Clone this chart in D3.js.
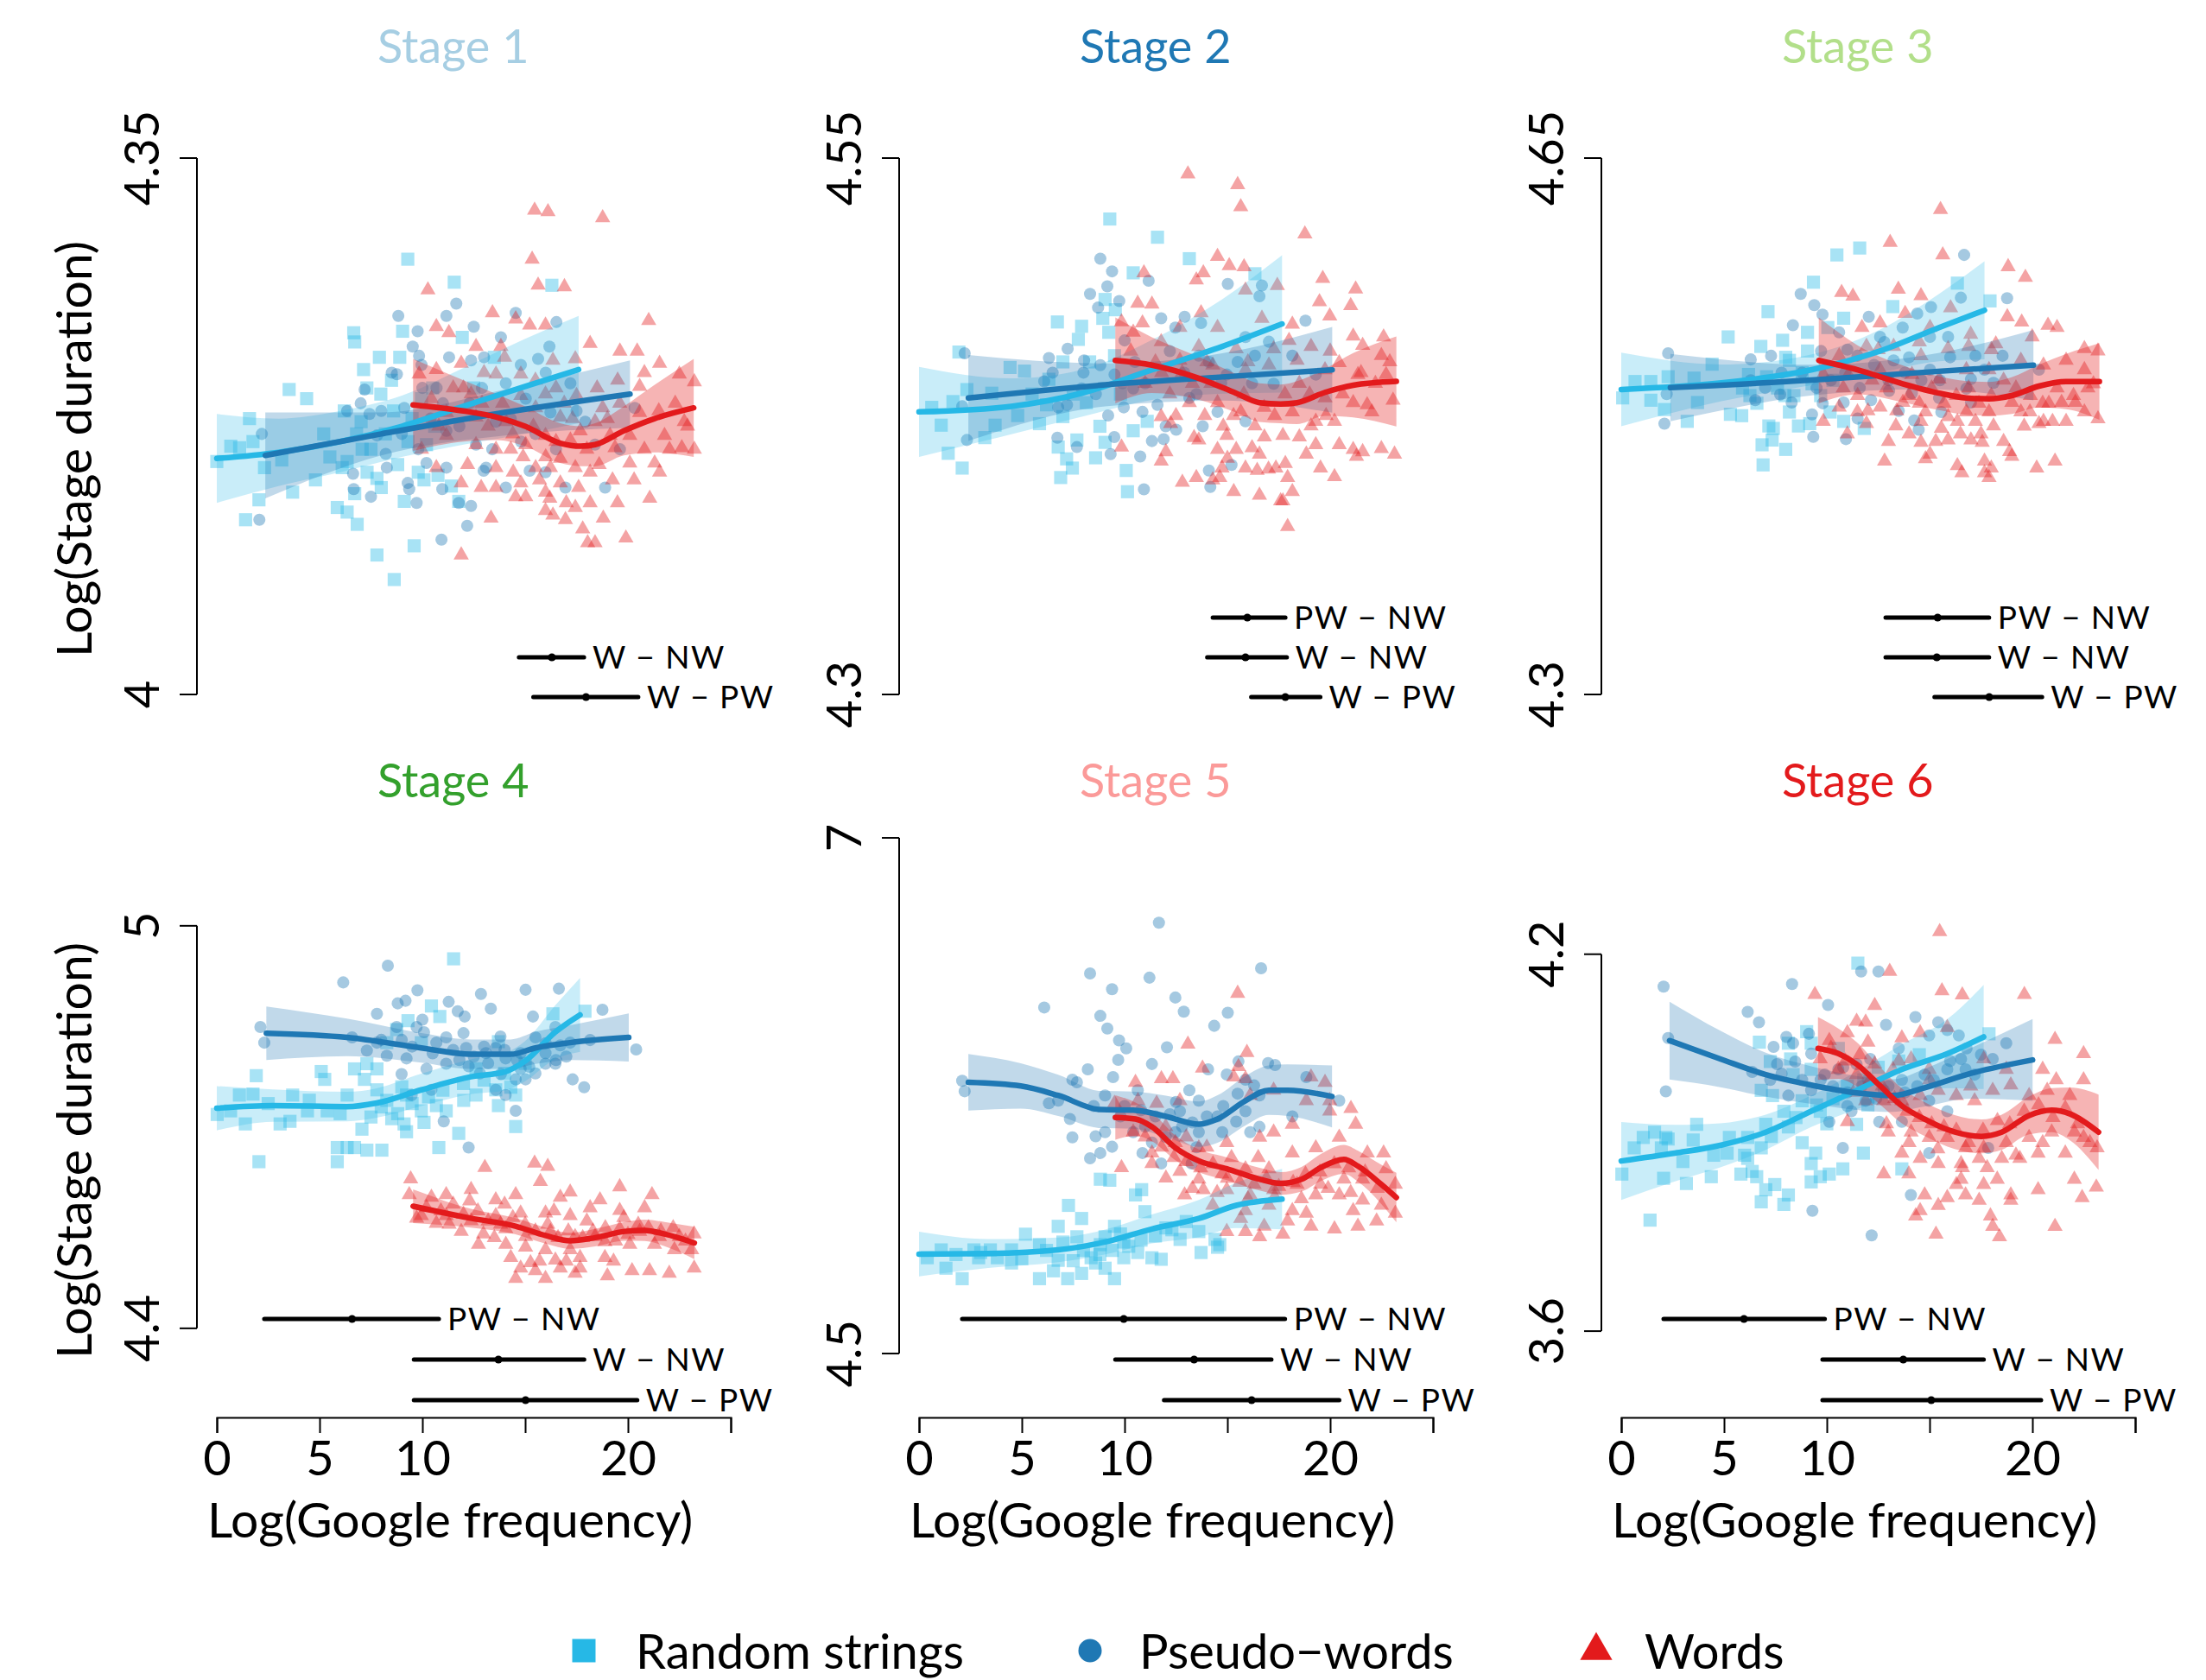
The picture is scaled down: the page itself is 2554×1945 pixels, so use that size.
<!DOCTYPE html>
<html>
<head>
<meta charset="utf-8">
<script src="https://cdn.jsdelivr.net/npm/d3@7"></script>
<style>
  body { margin: 0; background: #fff; }
  text { font-family: Lato, 'Open Sans', sans-serif; }
</style>
</head>
<body>
<div id="chart"></div>
<script>
// ---- chart values ----
var stages = ['Stage 1', 'Stage 2', 'Stage 3', 'Stage 4', 'Stage 5', 'Stage 6'];
var stageColors = ['#a6cee3', '#1f78b4', '#b2df8a', '#33a02c', '#fb9a99', '#e31a1c'];
var groups = ['Random strings', 'Pseudo\u2212words', 'Words'];
var groupColors = ['#26b8e6', '#1f78b4', '#e31a1c'];

var xTicks = [0, 5, 10, 15, 20, 25];
var xTickLabels = ['0', '5', '10', '', '20', ''];
var yTicks = [[4, 4.35], [4.3, 4.55], [4.3, 4.65], [4.4, 5], [4.5, 7], [3.6, 4.2]];
var yLimits = [[4, 4.35], [4.3, 4.55], [4.3, 4.65], [4.32, 5.144], [4.362, 7.042], [3.519, 4.399]];

// scatter: [log google frequency, log stage duration]
var rs1 = [[0,4.152],[0.68,4.162],[1.11,4.161],[1.59,4.18],[1.76,4.165],[1.4,4.114],[2.05,4.127],[2.32,4.148],[3.16,4.153],[3.69,4.132],[3.52,4.199],[4.37,4.193],[5.86,4.122],[6.34,4.119],[6.83,4.111],[6.66,4.236],[6.71,4.23],[7.14,4.212],[7.91,4.22],[7.98,4.196],[7.79,4.091],[8.63,4.075],[9.29,4.284],[9.04,4.237],[9.6,4.097],[10.08,4.14],[10.76,4.143],[11.41,4.136],[11.55,4.269],[11.94,4.233],[11.77,4.126],[16.3,4.267],[6.34,4.152],[6.71,4.131],[7.31,4.145],[7.02,4.178],[7.79,4.141],[9.12,4.126],[7.07,4.16],[6.1,4.148],[9.96,4.193],[10.2,4.163],[8.2,4.17],[8.8,4.15],[9.5,4.18],[10.5,4.2],[5.2,4.17],[4.8,4.14],[12.5,4.2],[13.5,4.22],[8.5,4.205],[6.2,4.185],
  [7.5,4.16],[8.0,4.135],[8.6,4.185],[9.3,4.165],[9.8,4.145],[10.6,4.175],[6.8,4.17],[5.5,4.155],[7.3,4.2],[8.9,4.22]];
var pw1 = [[2.07,4.114],[2.19,4.17],[6.34,4.185],[6.63,4.144],[6.66,4.134],[7.19,4.199],[7.5,4.129],[7.43,4.183],[8.22,4.157],[8.51,4.21],[8.76,4.209],[8.83,4.247],[9.12,4.187],[9.29,4.138],[9.36,4.134],[9.53,4.227],[9.72,4.125],[9.77,4.237],[9.84,4.221],[9.96,4.215],[10.93,4.101],[10.97,4.134],[11.17,4.247],[11.65,4.255],[11.77,4.125],[12.18,4.11],[12.37,4.218],[12.98,4.146],[14.06,4.135],[14.54,4.249],[15.22,4.146],[16.18,4.227],[16.52,4.243],[15.63,4.219],[14.79,4.215],[12.61,4.163],[13.58,4.178],[15.99,4.145],[17.92,4.178],[18.4,4.163],[20.33,4.187],[14.06,4.203],[10.69,4.2],[11.17,4.172],[10.2,4.151],[8.27,4.148],[7.79,4.169],[15.03,4.193],[16.23,4.184],[17.2,4.203],[19.61,4.16],[18.89,4.135],[13.1,4.148],[16.96,4.135],[13.82,4.233],[11.17,4.148],[12.37,4.123],
  [9.0,4.17],[9.8,4.16],[10.4,4.18],[11.0,4.19],[11.8,4.175],[12.3,4.19],[12.9,4.2],[13.4,4.16],[14.3,4.18],[14.8,4.165],[15.5,4.17],[16.5,4.16],[17.5,4.185],[8.0,4.185],[7.0,4.19],[10.0,4.2],[13.0,4.22],[16.0,4.21],[11.3,4.22],[12.5,4.24]];
var w1 = [[15.46,4.316],[16.11,4.315],[18.77,4.311],[15.34,4.284],[15.63,4.267],[16.91,4.266],[10.27,4.264],[13.41,4.249],[14.54,4.245],[15.22,4.241],[15.99,4.241],[21.01,4.244],[10.68,4.24],[11.29,4.236],[12.61,4.227],[13.82,4.227],[18.16,4.229],[19.61,4.224],[20.45,4.224],[21.54,4.216],[22.5,4.209],[23.23,4.204],[17.44,4.219],[16.35,4.218],[14.79,4.209],[13.58,4.209],[11.89,4.216],[10.68,4.212],[9.84,4.209],[10.44,4.193],[12.37,4.196],[14.79,4.195],[15.99,4.196],[18.77,4.187],[20.57,4.201],[22.74,4.178],[23.23,4.16],[22.62,4.161],[21.78,4.169],[20.57,4.184],[19.37,4.161],[18.4,4.178],[16.71,4.181],[15.51,4.187],[14.06,4.178],[12.61,4.181],[11.17,4.169],[9.96,4.16],[10.68,4.148],[11.89,4.138],[12.86,4.135],[13.58,4.135],[14.54,4.129],[15.03,4.129],[15.99,4.132],[16.71,4.138],[17.44,4.148],[18.16,4.145],[19.25,4.14],[20.09,4.151],[21.54,4.145],[21.06,4.128],[19.49,4.125],[18.16,4.125],[17.44,4.122],[16.96,4.114],[16.35,4.117],[15.99,4.12],[17.8,4.108],[18.04,4.099],[18.4,4.099],[19.9,4.102],[13.34,4.115],[11.89,4.091],[14.42,4.145],[16.23,4.148],[15.03,4.163],[13.58,4.16],[17.2,4.166],[19.13,4.169],[21.3,4.151],[22.02,4.16],[13.58,4.148],[14.79,4.138],[16.71,4.154],[15.99,4.169],[17.68,4.172],[20.09,4.169],[11.17,4.184],[12.61,4.163],[14.3,4.16],[15.51,4.148],
  [12.0,4.2],[12.9,4.19],[13.2,4.175],[13.9,4.19],[14.4,4.17],[14.9,4.155],[15.4,4.175],[15.7,4.14],[16.0,4.155],[16.5,4.165],[16.9,4.19],[17.3,4.18],[17.6,4.135],[18.0,4.16],[18.6,4.15],[19.0,4.18],[19.6,4.19],[20.3,4.14],[20.8,4.16],[21.5,4.185],[22.3,4.19],[22.9,4.175],[12.2,4.15],[11.5,4.2],[10.8,4.175],[13.0,4.21],[14.0,4.22],[15.5,4.205],[16.5,4.2],[17.5,4.195],[18.5,4.2],[19.5,4.205],[20.8,4.21],[16.2,4.128],[17.0,4.125],[18.8,4.115]];

var rs2 = [[9.28,4.5216],[11.6,4.5131],[13.15,4.5031],[10.42,4.4965],[16.34,4.4961],[6.73,4.4736],[7.91,4.4716],[7.75,4.4655],[9.05,4.4841],[9.55,4.4793],[8.94,4.4753],[9.23,4.4688],[1.94,4.4596],[4.43,4.4524],[5.13,4.4507],[2.33,4.4421],[3.54,4.4404],[1.65,4.4365],[0.62,4.4338],[1.08,4.4255],[1.42,4.4124],[2.1,4.4055],[3.2,4.4197],[3.7,4.4255],[5.86,4.4262],[7.0,4.4295],[6.77,4.4153],[7.18,4.4098],[6.89,4.4011],[7.46,4.4055],[7.68,4.4186],[8.59,4.4103],[9.05,4.4175],[10.08,4.4044],[10.14,4.3945],[10.42,4.4229],[11.1,4.4273],[9.51,4.4579],[6.32,4.4469],[8.14,4.436],
  [7.5,4.44],[8.3,4.455],[8.8,4.425],[6.2,4.435],[5.5,4.44],[9.8,4.44],[4.8,4.43],[7.0,4.455]];
var pw2 = [[8.82,4.5031],[9.39,4.4972],[9.16,4.4902],[8.32,4.4867],[8.71,4.4803],[9.74,4.4834],[11.17,4.4928],[15.02,4.4913],[16.68,4.4906],[16.56,4.4856],[18.8,4.4742],[12.92,4.476],[13.72,4.4731],[6.32,4.4568],[7.23,4.4611],[8.03,4.4557],[6.09,4.4459],[8.82,4.4535],[9.51,4.4491],[10.42,4.4426],[2.22,4.459],[2.1,4.4343],[2.33,4.4186],[6.73,4.4197],[7.68,4.4153],[9.32,4.412],[10.76,4.4109],[11.33,4.4181],[11.9,4.419],[12.51,4.4234],[14.1,4.4044],[14.17,4.3967],[15.2,4.407],[10.94,4.3956],[13.15,4.4382],[14.97,4.4491],[17.02,4.4644],[18.16,4.4579],[16.34,4.4579],[13.61,4.4579],[14.52,4.4317],[15.88,4.4273],[17.25,4.4448],[19.3,4.4491],[12.47,4.471],[11.78,4.4753],[6.77,4.4338],[7.91,4.4426],[9.96,4.4338],[10.87,4.4317],[15.88,4.4666],
  [8.0,4.45],[8.6,4.44],[9.2,4.43],[9.9,4.445],[10.5,4.455],[11.0,4.445],[11.6,4.435],[12.2,4.46],[12.9,4.45],[13.5,4.44],[14.1,4.455],[14.7,4.445],[15.5,4.455],[16.2,4.445],[7.2,4.435],[6.5,4.45],[10.0,4.465],[12.0,4.425],[13.8,4.425],[9.5,4.42]];
var w2 = [[13.08,4.5426],[15.5,4.5376],[15.65,4.5273],[18.77,4.5146],[14.52,4.5041],[15.09,4.4998],[15.81,4.4993],[13.83,4.4965],[13.49,4.4932],[10.94,4.4965],[19.64,4.4939],[21.24,4.4889],[15.88,4.4884],[17.43,4.4906],[10.64,4.4823],[11.33,4.4819],[13.72,4.4779],[19.48,4.483],[21.0,4.4812],[19.98,4.4764],[9.85,4.4736],[10.87,4.4731],[12.69,4.471],[14.52,4.471],[16.68,4.4753],[18.16,4.4725],[21.12,4.467],[22.6,4.4666],[21.58,4.4627],[19.07,4.4622],[17.25,4.4611],[15.43,4.4611],[13.61,4.4622],[11.78,4.4644],[10.42,4.4688],[20.44,4.4546],[22.49,4.4579],[22.72,4.4491],[21.35,4.4491],[19.75,4.4513],[18.39,4.4557],[17.02,4.4535],[15.88,4.4513],[14.29,4.4535],[12.69,4.4557],[19.75,4.4382],[21.12,4.436],[22.03,4.4317],[23.06,4.4371],[20.21,4.4273],[19.3,4.4273],[18.16,4.4317],[16.79,4.4338],[15.65,4.4317],[14.52,4.436],[13.15,4.436],[11.78,4.4295],[12.24,4.4262],[13.61,4.4186],[14.97,4.4207],[16.34,4.4251],[17.7,4.4207],[19.07,4.4251],[20.44,4.4164],[21.12,4.4142],[21.58,4.4131],[22.49,4.4146],[23.13,4.412],[21.28,4.4109],[19.53,4.4055],[20.21,4.4015],[18.84,4.412],[17.82,4.4076],[17.36,4.4055],[16.56,4.412],[15.43,4.4142],[14.52,4.4142],[13.38,4.4197],[12.01,4.4131],[11.78,4.4087],[9.85,4.4153],[12.81,4.3989],[13.49,4.4011],[14.29,4.4],[14.63,4.4011],[15.31,4.3945],[16.56,4.3928],[17.59,4.3902],[17.93,4.4011],[18.16,4.3945],[17.93,4.3782],[17.7,4.3902],[16.45,4.4044],[14.74,4.4055],[15.88,4.4055],[19.3,4.4164],
  [11.0,4.445],[11.5,4.455],[12.2,4.44],[12.8,4.45],[13.3,4.445],[13.9,4.43],[14.2,4.445],[14.8,4.425],[15.3,4.43],[15.8,4.44],[16.2,4.415],[16.8,4.42],[17.3,4.43],[17.8,4.44],[18.5,4.445],[19.0,4.44],[19.8,4.43],[20.6,4.44],[21.5,4.45],[22.2,4.445],[22.9,4.455],[10.3,4.46],[11.8,4.45],[14.0,4.455],[16.0,4.455],[18.0,4.465],[12.5,4.43],[15.0,4.41],[17.0,4.405],[18.5,4.42],[20.0,4.46],[21.8,4.435]];

var rs3 = [[10.49,4.5868],[11.6,4.5913],[9.35,4.569],[7.14,4.5498],[16.35,4.5684],[17.94,4.5568],[13.21,4.5531],[5.2,4.5333],[7.85,4.5311],[9.06,4.5363],[10.05,4.5394],[10.82,4.5455],[6.79,4.5271],[4.42,4.5155],[3.54,4.5064],[2.28,4.5073],[1.44,4.5042],[0.67,4.5042],[0.07,4.4935],[1.44,4.492],[2.1,4.4859],[3.71,4.4905],[3.21,4.4782],[5.31,4.4828],[5.86,4.4819],[6.26,4.495],[7.07,4.5073],[8.18,4.518],[9.06,4.5241],[9.28,4.5027],[7.96,4.495],[6.85,4.4629],[7.34,4.466],[7.4,4.4736],[7.18,4.4752],[8.0,4.4599],[6.9,4.4498],[8.62,4.4752],[9.17,4.4767],[10.16,4.4843],[10.82,4.4782],[11.82,4.4736],[8.18,4.4843],[6.19,4.5088],
  [7.6,4.5],[8.4,4.495],[8.8,4.51],[6.6,4.49],[5.9,4.5],[9.7,4.495],[10.3,4.505],[8.0,4.52]];
var pw3 = [[16.68,4.5868],[16.52,4.5589],[18.77,4.5586],[8.73,4.5614],[9.39,4.554],[9.79,4.5479],[8.35,4.5409],[12.04,4.5464],[14.4,4.5486],[15.07,4.5528],[2.28,4.5226],[2.21,4.496],[2.1,4.4767],[6.3,4.5186],[7.29,4.521],[6.52,4.492],[7.73,4.4957],[8.29,4.4905],[9.28,4.4828],[9.34,4.4681],[10.93,4.4666],[10.82,4.4905],[12.15,4.492],[13.03,4.4981],[14.14,4.4966],[15.46,4.4935],[16.79,4.4996],[18.11,4.5033],[14.47,4.4727],[14.25,4.4788],[15.57,4.4843],[17.01,4.5058],[17.67,4.5119],[20.32,4.5119],[15.02,4.5119],[13.25,4.518],[11.49,4.521],[9.72,4.5241],[15.9,4.5333],[12.59,4.5333],[13.69,4.5394],[17.23,4.521],[18.55,4.521],[17.01,4.4905],[15.02,4.5333],[10.6,4.5363],
  [8.8,4.51],[9.5,4.5],[10.2,4.505],[10.9,4.51],[11.6,4.5],[12.3,4.515],[13.0,4.505],[13.8,4.51],[14.6,4.505],[15.5,4.505],[16.0,4.52],[7.8,4.51],[7.0,4.5],[6.3,4.505],[11.0,4.525],[12.8,4.53],[14.0,4.52],[9.8,4.49],[11.5,4.48],[13.5,4.485]];
var w3 = [[15.53,4.6164],[13.08,4.595],[15.64,4.5868],[18.82,4.5791],[19.66,4.5721],[10.72,4.5623],[11.27,4.5599],[13.48,4.5644],[14.58,4.5602],[16.02,4.5522],[18.78,4.5464],[19.48,4.543],[20.76,4.5409],[21.2,4.5394],[19.99,4.5333],[18.22,4.5287],[16.9,4.5271],[13.81,4.5486],[12.59,4.5424],[11.71,4.5394],[15.02,4.5394],[15.9,4.5256],[14.58,4.521],[13.25,4.5271],[11.93,4.5271],[10.6,4.521],[9.83,4.5088],[11.05,4.5088],[12.59,4.5119],[14.14,4.5088],[15.46,4.5058],[16.79,4.5119],[17.89,4.5119],[19.44,4.518],[20.54,4.5149],[21.64,4.518],[22.53,4.5256],[23.19,4.5241],[22.53,4.5119],[22.97,4.5027],[21.42,4.4905],[22.09,4.4905],[22.53,4.4843],[23.19,4.4798],[20.54,4.4782],[19.88,4.4843],[19.0,4.4905],[17.89,4.4843],[16.79,4.4843],[15.9,4.4813],[14.8,4.4843],[13.7,4.4905],[12.59,4.4874],[11.49,4.4843],[10.6,4.4874],[9.83,4.4782],[11.93,4.4767],[13.36,4.4752],[14.58,4.4782],[15.57,4.4736],[16.35,4.4782],[17.23,4.4782],[18.11,4.4752],[19.44,4.4843],[21.64,4.4782],[20.98,4.4782],[20.32,4.4767],[14.58,4.4645],[15.02,4.4568],[15.9,4.466],[17.01,4.466],[17.56,4.4645],[12.81,4.4522],[14.8,4.4538],[16.35,4.4492],[16.57,4.4446],[17.67,4.4522],[17.89,4.4415],[18.89,4.4584],[19.0,4.4553],[20.21,4.4477],[21.1,4.4522],[18.0,4.4477],[17.67,4.4446],
  [10.8,4.5],[11.5,4.495],[12.2,4.505],[12.9,4.5],[13.4,4.485],[14.0,4.495],[14.5,4.49],[15.1,4.5],[15.7,4.49],[16.3,4.495],[16.9,4.5],[17.4,4.49],[18.0,4.495],[18.6,4.505],[19.2,4.5],[19.9,4.495],[20.5,4.49],[21.2,4.5],[22.0,4.495],[22.7,4.5],[11.0,4.47],[12.0,4.485],[13.0,4.465],[14.0,4.47],[15.3,4.465],[16.5,4.47],[17.5,4.47],[18.6,4.465],[19.6,4.475],[20.8,4.49],[12.5,4.525],[14.5,4.53],[17.0,4.535],[18.0,4.525]];

var rs4 = [[11.52,4.9508],[10.44,4.8805],[10.85,4.8648],[9.3,4.8586],[9.95,4.8258],[8.75,4.8453],[8.27,4.8258],[7.3,4.7945],[6.7,4.7867],[7.79,4.7867],[6.34,4.7477],[3.69,4.7477],[1.76,4.7492],[1.1,4.7477],[1.92,4.7766],[5.08,4.7828],[5.25,4.7711],[7.18,4.7711],[7.79,4.7555],[8.27,4.7398],[9.23,4.7477],[9.95,4.7242],[10.68,4.732],[11.16,4.7242],[12.01,4.7398],[12.61,4.7477],[13.57,4.7555],[14.3,4.7594],[14.54,4.7477],[13.7,4.732],[16.35,4.8688],[17.91,4.8727],[13.7,4.8273],[12.61,4.7867],[0.02,4.7188],[0.67,4.7242],[1.39,4.7047],[3.08,4.7047],[3.56,4.7086],[4.41,4.7242],[5.37,4.7242],[5.86,4.6695],[6.34,4.6695],[6.7,4.6695],[7.3,4.6656],[8.03,4.6656],[7.06,4.6969],[9.11,4.7047],[10.08,4.707],[11.77,4.6906],[10.8,4.6695],[14.54,4.7008],[2.05,4.6484],[5.86,4.6484],[9.23,4.693],[8.51,4.7125],
  [8.0,4.73],[8.8,4.72],[9.5,4.735],[10.3,4.745],[11.0,4.755],[12.0,4.765],[13.0,4.77],[14.0,4.78],[15.0,4.795],[6.0,4.72],[7.5,4.715],[9.0,4.76],[4.5,4.74],[2.5,4.735]];
var pw4 = [[8.32,4.9406],[6.15,4.9156],[9.76,4.9039],[12.85,4.8984],[15.02,4.9047],[16.64,4.9063],[18.76,4.875],[8.8,4.8844],[9.18,4.8883],[7.79,4.8688],[11.28,4.8867],[11.72,4.8727],[12.06,4.8648],[13.33,4.8766],[15.38,4.8648],[16.47,4.8492],[2.12,4.8492],[2.31,4.8258],[6.58,4.8336],[7.3,4.8141],[8.75,4.8492],[9.72,4.8492],[10.08,4.8414],[10.68,4.8258],[11.16,4.8336],[12.13,4.818],[13.09,4.8102],[13.57,4.818],[14.05,4.8023],[14.78,4.8102],[15.5,4.8336],[15.99,4.8102],[16.71,4.8219],[17.19,4.8258],[18.16,4.8297],[20.4,4.8156],[15.99,4.7945],[16.47,4.7945],[14.78,4.7867],[13.82,4.7789],[13.57,4.7555],[14.05,4.7477],[14.54,4.7711],[15.02,4.7711],[17.31,4.7711],[17.87,4.7594],[9.23,4.8023],[10.2,4.7867],[11.16,4.7945],[12.25,4.7906],[8.99,4.7789],[9.48,4.7477],[10.44,4.7555],[11.04,4.7086],[12.25,4.6695],[14.54,4.7242],[8.27,4.8063],[7.79,4.8258],
  [8.0,4.83],[9.0,4.83],[10.5,4.81],[11.5,4.815],[12.5,4.805],[13.2,4.795],[14.0,4.815],[14.6,4.8],[15.2,4.79],[16.0,4.825],[17.0,4.805],[12.0,4.84],[13.8,4.835],[10.0,4.86],[11.8,4.8],[12.8,4.78],[15.5,4.78],[16.5,4.8],[9.5,4.82],[13.0,4.82]];
var w4 = [[13.04,4.6398],[15.46,4.6461],[16.1,4.6414],[9.43,4.6227],[9.36,4.5992],[10.44,4.5953],[11.16,4.5992],[12.37,4.607],[13.57,4.5914],[14.54,4.5992],[15.74,4.6188],[16.71,4.5953],[17.19,4.6031],[18.64,4.5914],[19.6,4.6109],[21.17,4.5992],[20.81,4.5797],[19.6,4.5758],[18.16,4.5797],[17.19,4.568],[15.99,4.5719],[14.78,4.5719],[13.57,4.568],[12.37,4.5602],[11.16,4.568],[9.95,4.568],[9.72,4.5641],[10.68,4.5563],[11.89,4.5445],[12.97,4.5406],[14.06,4.5484],[15.02,4.5367],[16.23,4.5445],[17.43,4.5367],[18.4,4.5367],[19.6,4.5484],[20.57,4.5445],[21.53,4.5367],[22.5,4.5367],[23.22,4.5406],[23.1,4.5172],[22.26,4.5172],[21.29,4.525],[20.09,4.525],[18.88,4.5289],[17.19,4.5172],[15.99,4.5172],[15.02,4.5211],[14.06,4.525],[12.73,4.525],[14.3,4.5055],[15.26,4.4977],[16.47,4.5016],[17.67,4.5055],[18.88,4.5055],[14.78,4.4898],[15.5,4.4859],[16.71,4.4898],[17.67,4.4898],[19.0,4.4781],[20.2,4.4859],[21.05,4.4859],[22.01,4.482],[23.22,4.4898],[14.54,4.4742],[15.99,4.4742],[17.43,4.482],
  [10.2,4.58],[10.9,4.575],[11.5,4.585],[12.0,4.57],[12.7,4.575],[13.2,4.56],[13.8,4.555],[14.4,4.565],[15.0,4.555],[15.5,4.545],[16.1,4.555],[16.6,4.535],[17.1,4.545],[17.8,4.535],[18.3,4.545],[18.9,4.55],[19.4,4.53],[20.0,4.54],[20.5,4.555],[21.0,4.55],[21.6,4.545],[22.2,4.55],[22.8,4.53],[11.3,4.555],[12.3,4.59],[14.0,4.585],[16.4,4.575],[18.0,4.56],[19.8,4.565],[13.5,4.535],[15.7,4.5],[17.0,4.5],[19.3,4.5]];

var rs5 = [[8.82,5.3452],[9.28,5.3401],[10.53,5.269],[10.83,5.2944],[10.99,5.1878],[12.01,5.1091],[7.27,5.2183],[7.91,5.1548],[6.77,5.1168],[5.18,5.0787],[5.86,5.0279],[4.5,5.0025],[3.47,5.0025],[2.67,5.0025],[1.08,5.0025],[0.4,4.9645],[1.31,4.9137],[2.1,4.8629],[2.9,4.9645],[3.81,4.9645],[4.5,4.9391],[5.86,4.8629],[6.54,4.901],[7.23,4.8629],[7.91,4.8883],[8.59,4.9391],[9.05,4.9137],[9.51,4.8629],[9.96,4.9645],[10.64,4.9898],[11.33,4.9645],[11.78,4.9569],[12.7,5.0533],[13.61,5.0914],[13.72,4.9898],[14.4,5.0533],[14.63,5.0279],[14.52,5.0152],[9.05,5.066],[9.51,5.1168],[8.82,5.0279],[7.68,5.066],[7.0,5.0406],[8.37,4.9645],[6.77,4.9518],[9.96,5.0406],
  [8.0,5.0],[8.8,4.98],[9.4,5.0],[10.2,5.02],[10.8,5.05],[11.5,5.07],[12.3,5.1],[13.0,5.14],[7.5,4.95],[6.2,5.0],[5.0,4.96],[3.0,4.99],[1.8,4.98],[9.8,5.08]];
var pw5 = [[11.67,6.5888],[16.64,6.368],[8.32,6.3426],[11.21,6.3223],[9.39,6.2665],[6.09,6.1777],[12.47,6.2259],[12.88,6.1574],[15.02,6.1523],[14.36,6.0888],[8.82,6.1371],[9.16,6.0761],[9.73,6.0178],[10.08,5.9797],[9.69,5.9239],[12.06,5.9848],[11.33,5.9036],[8.21,5.8782],[7.68,5.8147],[6.77,5.7259],[6.32,5.7132],[7.46,5.8274],[2.1,5.8223],[2.22,5.7716],[9.44,5.8401],[9.05,5.7513],[10.64,5.7766],[13.15,5.7766],[13.61,5.7259],[12.69,5.6751],[14.52,5.6497],[15.43,5.6244],[16.11,5.5736],[16.56,5.599],[15.54,5.9162],[15.88,5.8274],[16.98,5.9086],[17.32,5.8985],[18.84,5.8401],[20.44,5.7259],[18.16,5.6497],[7.34,5.6371],[7.46,5.5482],[8.59,5.5533],[9.05,5.5736],[10.42,5.5736],[9.39,5.5025],[8.82,5.4721],[8.32,5.4467],[10.87,5.4721],[11.33,5.5228],[11.78,5.4213],[12.47,5.5736],[13.61,5.5736],[14.75,5.5736],[13.26,5.4213],[16.56,5.7513],[15.88,5.6751],[14.06,5.8782],[14.97,5.8528],
  [10.0,5.7],[10.8,5.68],[11.5,5.65],[12.2,5.66],[12.8,5.6],[13.3,5.62],[14.0,5.65],[14.8,5.7],[15.5,5.76],[16.3,5.8],[11.0,5.6],[12.0,5.55],[9.8,5.65],[8.5,5.7],[13.5,5.5],[12.5,5.72]];
var w5 = [[15.5,6.2462],[13.08,6.0],[13.79,5.8832],[15.95,5.9594],[15.54,5.8909],[10.53,5.8147],[11.79,5.8325],[12.35,5.8325],[15.31,5.8401],[15.88,5.8325],[19.07,5.8401],[19.75,5.8147],[9.51,5.7132],[10.65,5.7259],[11.56,5.7132],[12.69,5.7259],[16.11,5.7513],[17.25,5.7766],[18.84,5.7259],[19.98,5.7259],[21.01,5.6878],[21.24,5.6117],[19.98,5.6751],[18.16,5.6117],[17.25,5.5736],[16.57,5.5482],[14.97,5.5228],[13.61,5.4975],[12.47,5.5228],[11.33,5.4721],[10.42,5.5736],[9.85,5.401],[11.33,5.4213],[12.01,5.3503],[12.69,5.3832],[13.61,5.3452],[14.74,5.3706],[15.88,5.396],[17.02,5.396],[18.16,5.4721],[19.3,5.4975],[20.44,5.5482],[21.81,5.4721],[22.6,5.4721],[22.72,5.396],[21.58,5.3452],[20.67,5.3452],[19.53,5.3198],[18.39,5.3198],[17.25,5.2944],[16.11,5.269],[14.97,5.2944],[13.83,5.2944],[12.92,5.269],[14.29,5.2183],[15.88,5.1929],[17.02,5.2183],[18.16,5.1929],[19.3,5.269],[20.44,5.269],[21.58,5.2437],[22.49,5.2183],[23.17,5.3198],[23.17,5.1802],[22.26,5.1421],[21.35,5.1168],[20.21,5.1041],[19.07,5.1168],[17.93,5.1421],[16.79,5.1168],[15.88,5.0914],[14.97,5.0914],[15.65,5.1548],[17.7,5.0787],[18.84,5.1802],[21.12,5.1929],[16.57,5.066],
  [11.0,5.55],[11.8,5.5],[12.4,5.45],[13.0,5.43],[13.7,5.4],[14.3,5.42],[15.0,5.35],[15.6,5.33],[16.3,5.32],[16.9,5.35],[17.5,5.31],[18.2,5.33],[18.8,5.37],[19.5,5.38],[20.2,5.42],[20.9,5.4],[21.7,5.38],[22.3,5.3],[13.3,5.3],[14.5,5.28],[16.0,5.25],[17.3,5.26],[18.6,5.25],[19.9,5.3],[21.0,5.28],[12.0,5.6],[13.0,5.55],[14.0,5.5],[15.2,5.45],[16.5,5.45]];

var rs6 = [[11.51,4.1858],[6.72,4.06],[8.13,4.0583],[9.02,4.0767],[9.24,4.0583],[10.56,4.05],[8.24,4.0333],[7.25,4.0292],[8.36,4.0083],[9.24,4.0167],[6.81,3.9833],[7.36,3.975],[7.91,3.95],[8.8,3.9667],[9.68,3.95],[8.13,3.925],[7.03,3.9292],[6.15,3.9083],[5.26,3.9083],[3.67,3.9292],[2.17,3.9083],[1.62,3.9167],[1.07,3.9083],[0.63,3.8917],[1.95,3.8917],[2.28,3.9058],[3.5,3.9042],[5.15,3.8833],[6.15,3.875],[6.81,3.8917],[6.37,3.8542],[5.82,3.85],[6.59,3.8458],[4.38,3.8458],[3.17,3.835],[2.06,3.8433],[0.03,3.85],[1.4,3.7767],[7.47,3.8333],[7.03,3.825],[6.81,3.8058],[7.91,3.8017],[8.13,3.8167],[9.24,3.8375],[9.68,3.8458],[10.12,3.85],[10.78,3.8583],[11.78,3.8833],[11.45,3.9292],[9.46,3.8833],[8.8,3.9],[9.24,3.8667],[13.65,3.8583],[17.89,4.0733],
  [8.5,3.94],[9.5,3.96],[10.3,3.97],[11.0,3.99],[11.8,4.0],[12.5,4.02],[13.5,4.03],[7.3,3.91],[6.0,3.88],[4.5,3.88],[3.0,3.87],[10.0,3.93],[12.0,3.96],[14.5,4.04]];
var pw6 = [[2.06,4.1483],[8.31,4.1525],[11.67,4.1725],[12.51,4.1725],[10.06,4.1192],[6.15,4.1083],[6.7,4.0917],[2.28,4.0667],[2.17,3.9817],[8.03,4.0683],[8.36,4.0583],[9.13,4.0733],[7.41,4.0525],[7.58,4.025],[8.46,4.0292],[9.24,4.0417],[6.37,4.0125],[7.25,4.0],[8.13,3.975],[9.24,3.9833],[9.9,4.0083],[10.56,4.0167],[11.45,4.025],[12.11,4.0333],[12.88,4.0875],[14.31,4.1],[14.98,4.0708],[15.42,4.0917],[15.86,4.0792],[16.42,4.0708],[16.53,4.0333],[16.75,4.0167],[17.19,4.0083],[15.86,4.0167],[14.76,4.0083],[13.65,4.0],[12.77,3.9833],[11.89,3.9667],[11.0,3.9583],[10.12,3.9333],[13.65,3.9333],[14.98,3.9667],[15.86,3.95],[17.85,3.8917],[14.98,3.8833],[14.09,3.8167],[9.3,3.7917],[12.18,3.7525],[10.78,3.8917],[18.73,4.0583],[18.07,4.0333],[12.55,3.9333],
  [9.7,4.0],[10.3,3.99],[11.0,3.98],[11.7,3.99],[12.4,3.97],[13.0,3.99],[13.8,3.98],[14.4,3.99],[15.2,4.0],[16.0,4.03],[16.8,4.05],[17.5,4.04],[8.8,4.0],[7.8,4.01],[12.0,4.0],[10.8,4.02],[13.5,4.05],[11.2,3.95]];
var w6 = [[15.49,4.2358],[13.06,4.1725],[9.42,4.1358],[12.33,4.1183],[15.6,4.1417],[16.59,4.135],[19.61,4.1358],[11.45,4.0933],[11.89,4.0917],[10.12,4.0625],[11.0,4.075],[13.65,4.0667],[14.54,4.075],[15.86,4.0833],[21.1,4.0642],[22.49,4.0417],[9.68,4.0333],[10.56,4.0167],[11.45,4.0083],[12.33,4.025],[13.21,4.0167],[14.1,4.0333],[14.98,4.0167],[17.63,4.0333],[18.73,4.0167],[20.5,4.0167],[21.16,4.0],[22.49,4.0],[21.82,3.975],[20.72,3.9833],[19.84,3.975],[18.95,3.9917],[18.07,3.9833],[17.19,3.9667],[16.3,3.975],[15.42,3.9833],[14.54,3.975],[13.65,3.9667],[12.77,3.9667],[11.89,3.9667],[11.0,3.9333],[12.99,3.9167],[14.1,3.9167],[14.98,3.9083],[15.86,3.9083],[16.75,3.8917],[17.63,3.8917],[18.73,3.9],[19.84,3.9083],[20.94,3.9167],[22.04,3.9167],[23.15,3.8917],[22.49,3.9083],[21.6,3.8833],[20.28,3.8833],[19.39,3.875],[18.51,3.875],[17.41,3.875],[16.53,3.8667],[15.42,3.8667],[14.54,3.875],[13.65,3.8833],[12.77,3.85],[13.99,3.85],[16.53,3.8417],[17.63,3.8333],[18.29,3.8417],[18.95,3.8167],[17.41,3.8083],[15.86,3.8125],[14.76,3.8167],[14.54,3.7917],[15.42,3.8],[16.75,3.8167],[17.96,3.7833],[18.07,3.7667],[18.4,3.75],[15.31,3.7542],[14.32,3.7833],[20.28,3.825],[22.04,3.8417],[22.42,3.8125],[23.11,3.8292],[21.1,3.7667],[18.95,3.8083],[16.3,3.8333],
  [10.2,4.05],[10.9,4.03],[11.6,4.04],[12.1,4.0],[12.7,3.99],[13.3,3.97],[13.9,3.95],[14.5,3.94],[15.1,3.93],[15.7,3.925],[16.3,3.92],[16.9,3.9],[17.6,3.92],[18.3,3.935],[18.9,3.93],[19.6,3.95],[20.3,3.96],[21.0,3.94],[21.6,3.955],[22.2,3.93],[22.8,3.9],[11.3,3.98],[12.9,3.93],[14.0,3.9],[15.4,3.89],[16.6,3.86],[17.8,3.86],[19.2,3.88],[20.5,3.9],[12.0,4.06],[13.5,4.03],[15.0,4.0],[17.0,3.99]];

// smoothers: [x, fitted value, half width of the band]
var rsFit1 = [[0,4.154,0.029],[3,4.158,0.022],[6,4.165,0.02],[9,4.175,0.02],[12,4.188,0.025],[15,4.201,0.031],[17.6,4.212,0.035]];
var pwFit1 = [[2.36,4.156,0.028],[8,4.17,0.014],[14,4.184,0.015],[20.1,4.196,0.022]];
var wFit1 = [[9.55,4.189,0.03],[12,4.185,0.02],[13.6,4.181,0.015],[15,4.175,0.013],[16.7,4.164,0.013],[17.7,4.162,0.013],[18.4,4.163,0.014],[19.8,4.172,0.016],[21.3,4.18,0.022],[23.2,4.187,0.032]];
var rsFit2 = [[0,4.4317,0.021],[4.49,4.4343,0.013],[7.91,4.4404,0.011],[11.33,4.4513,0.014],[14.75,4.4622,0.022],[17.66,4.4727,0.032]];
var pwFit2 = [[2.4,4.4382,0.02],[9.05,4.4443,0.01],[14.75,4.448,0.011],[20.1,4.4513,0.02]];
var wFit2 = [[9.55,4.4557,0.02],[11.33,4.4535,0.013],[13.6,4.4474,0.01],[15.42,4.4404,0.009],[16.56,4.436,0.009],[17.59,4.4354,0.009],[18.39,4.436,0.01],[19.75,4.4408,0.011],[21.12,4.4441,0.015],[23.22,4.4459,0.021]];
var rsFit3 = [[0,4.499,0.024],[4.87,4.5033,0.012],[9.28,4.5119,0.01],[12.59,4.5241,0.014],[15.46,4.5394,0.022],[17.67,4.5507,0.032]];
var pwFit3 = [[2.39,4.5002,0.022],[9.28,4.5051,0.01],[14.8,4.5103,0.011],[20.05,4.5149,0.023]];
var wFit3 = [[9.61,4.518,0.028],[11.49,4.5119,0.016],[13.69,4.5027,0.012],[15.46,4.4966,0.011],[16.79,4.4935,0.011],[17.89,4.4929,0.011],[18.99,4.495,0.012],[20.32,4.5012,0.014],[21.64,4.5042,0.018],[23.26,4.5042,0.025]];
var rsFit4 = [[0,4.7281,0.033],[2.72,4.732,0.024],[6.33,4.7305,0.022],[7.78,4.7359,0.022],[9.95,4.7555,0.024],[12.36,4.775,0.026],[14.05,4.7828,0.028],[15,4.7984,0.03],[16.46,4.8414,0.04],[17.67,4.8672,0.055]];
var pwFit4 = [[2.41,4.8398,0.04],[6.33,4.8336,0.028],[9.95,4.818,0.022],[12.36,4.8086,0.022],[14.29,4.8086,0.022],[15.5,4.818,0.024],[17.19,4.8258,0.026],[20.04,4.8336,0.036]];
var wFit4 = [[9.55,4.582,0.025],[12.36,4.5641,0.014],[14.53,4.5523,0.012],[15.99,4.5383,0.012],[17.2,4.5305,0.012],[18.4,4.5352,0.013],[19.85,4.5445,0.014],[20.81,4.5461,0.016],[21.78,4.5406,0.018],[23.23,4.5273,0.024]];
var rsFit5 = [[0,4.9822,0.108],[3.36,4.9848,0.07],[6.77,5.0025,0.06],[9.05,5.0406,0.06],[11.33,5.1041,0.07],[13.61,5.1548,0.09],[15.43,5.2183,0.11],[17.66,5.2487,0.147]];
var pwFit5 = [[2.4,5.8147,0.137],[4.95,5.797,0.11],[6.77,5.7513,0.1],[8.82,5.6827,0.09],[10.42,5.6802,0.09],[12.01,5.6497,0.1],[13.61,5.6117,0.11],[14.52,5.637,0.115],[15.88,5.7259,0.12],[17.02,5.7766,0.12],[17.93,5.7766,0.125],[20.09,5.7462,0.15]];
var wFit5 = [[9.55,5.6447,0.108],[10.53,5.637,0.08],[11.33,5.599,0.07],[12.47,5.4975,0.06],[13.61,5.434,0.055],[14.97,5.396,0.055],[16.56,5.3452,0.055],[17.59,5.3249,0.055],[18.61,5.3452,0.06],[19.53,5.401,0.065],[20.67,5.4416,0.07],[21.35,5.4086,0.075],[22.49,5.3198,0.095],[23.22,5.2563,0.12]];
var rsFit6 = [[0,3.8708,0.062],[2.61,3.8833,0.045],[4.82,3.8958,0.035],[7.03,3.9167,0.028],[9.24,3.95,0.025],[11.45,3.9833,0.03],[13.66,4.0167,0.04],[15.87,4.0417,0.055],[17.63,4.0683,0.083]];
var pwFit6 = [[2.35,4.0625,0.062],[4.82,4.0333,0.045],[7.03,4.0083,0.035],[9.24,3.9917,0.03],[11.45,3.9792,0.027],[13.21,3.975,0.026],[14.76,3.9875,0.03],[16.97,4.01,0.04],[20.01,4.0317,0.065]];
var wFit6 = [[9.57,4.05,0.05],[10.56,4.0417,0.04],[11.45,4.025,0.035],[12.55,3.9917,0.03],[13.66,3.9583,0.028],[14.76,3.9375,0.027],[15.87,3.9208,0.027],[17.52,3.91,0.027],[18.51,3.9167,0.028],[19.84,3.9433,0.03],[20.94,3.9517,0.035],[21.83,3.9458,0.042],[23.22,3.9167,0.06]];

// pairwise contrasts: [label, low, estimate, high, row slot]
var contrasts1 = [['W \u2212 NW', 14.7, 16.3, 17.86, 1], ['W \u2212 PW', 15.4, 17.96, 20.5, 2]];
var contrasts2 = [['PW \u2212 NW', 14.29, 15.97, 17.82, 0], ['W \u2212 NW', 14.02, 15.88, 17.89, 1], ['W \u2212 PW', 16.16, 17.82, 19.52, 2]];
var contrasts3 = [['PW \u2212 NW', 12.86, 15.39, 17.89, 0], ['W \u2212 NW', 12.86, 15.35, 17.89, 1], ['W \u2212 PW', 15.24, 17.9, 20.47, 2]];
var contrasts4 = [['PW \u2212 NW', 2.31, 6.58, 10.8, 0], ['W \u2212 NW', 9.59, 13.7, 17.87, 1], ['W \u2212 PW', 9.59, 15.02, 20.45, 2]];
var contrasts5 = [['PW \u2212 NW', 2.1, 9.96, 17.8, 0], ['W \u2212 NW', 9.55, 13.38, 17.14, 1], ['W \u2212 PW', 11.92, 16.18, 20.44, 2]];
var contrasts6 = [['PW \u2212 NW', 2.06, 5.97, 9.9, 0], ['W \u2212 NW', 9.79, 13.72, 17.63, 1], ['W \u2212 PW', 9.79, 15.08, 20.42, 2]];

var panels = [
  { pts: [rs1, pw1, w1], fits: [rsFit1, pwFit1, wFit1], contrasts: contrasts1 },
  { pts: [rs2, pw2, w2], fits: [rsFit2, pwFit2, wFit2], contrasts: contrasts2 },
  { pts: [rs3, pw3, w3], fits: [rsFit3, pwFit3, wFit3], contrasts: contrasts3 },
  { pts: [rs4, pw4, w4], fits: [rsFit4, pwFit4, wFit4], contrasts: contrasts4 },
  { pts: [rs5, pw5, w5], fits: [rsFit5, pwFit5, wFit5], contrasts: contrasts5 },
  { pts: [rs6, pw6, w6], fits: [rsFit6, pwFit6, wFit6], contrasts: contrasts6 },
];

// ---- layout ----
var W = 2554, H = 1945;
var colLeft = [251, 1064, 1877];
var xWidth = 595;
var rowLayout = [
  { plotTop: 183, plotBottom: 804, titleY: 73, barY: [715, 761, 807], ylabY: 520 },
  { plotTop: 960, plotBottom: 1600, titleY: 923, barY: [1527, 1574, 1621], ylabY: 1332, axisY: 1641 },
];
var symbolTypes = [d3.symbolSquare, d3.symbolCircle, d3.symbolTriangle];
var symbolSizes = [230, 155, 135];
var bandOpacity = [0.25, 0.28, 0.33];

var svg = d3.select('#chart').append('svg')
  .attr('width', W).attr('height', H)
  .style('background', '#fff');

panels.forEach(function (p, i) {
  var col = i % 3, row = Math.floor(i / 3);
  var lay = rowLayout[row];
  var x = d3.scaleLinear().domain([0, 25]).range([colLeft[col], colLeft[col] + xWidth]);
  var y = d3.scaleLinear().domain(yLimits[i]).range([lay.plotBottom, lay.plotTop]);
  var g = svg.append('g').attr('class', 'panel');

  // title
  g.append('text')
    .attr('x', x(11.5)).attr('y', lay.titleY)
    .attr('text-anchor', 'middle')
    .style('font-size', '54px')
    .style('fill', stageColors[i])
    .text(stages[i]);

  // y axis
  var axisX = colLeft[col] - 23;
  var yt = yTicks[i];
  g.append('line')
    .attr('x1', axisX).attr('x2', axisX)
    .attr('y1', y(yt[0])).attr('y2', y(yt[1]))
    .attr('stroke', '#000').attr('stroke-width', 2);
  yt.forEach(function (v) {
    g.append('line')
      .attr('x1', axisX - 20).attr('x2', axisX)
      .attr('y1', y(v)).attr('y2', y(v))
      .attr('stroke', '#000').attr('stroke-width', 2);
    g.append('text')
      .attr('transform', 'translate(' + (axisX - 44) + ',' + y(v) + ') rotate(-90)')
      .attr('text-anchor', 'middle')
      .style('font-size', '56px')
      .text(String(v));
  });
  if (col === 0) {
    g.append('text')
      .attr('transform', 'translate(106,' + lay.ylabY + ') rotate(-90)')
      .attr('text-anchor', 'middle')
      .style('font-size', '57px')
      .text('Log(Stage duration)');
  }

  // x axis (bottom row only)
  if (lay.axisY) {
    var xa = g.append('g').attr('transform', 'translate(0,' + lay.axisY + ')');
    xa.call(d3.axisBottom(x).tickValues(xTicks).tickSize(18)
      .tickFormat(function (d, k) { return xTickLabels[k]; }));
    xa.select('.domain').attr('stroke-width', 2);
    xa.selectAll('.tick line').attr('stroke-width', 2);
    xa.selectAll('.tick text')
      .attr('dy', null).attr('y', 67)
      .style('font-size', '56px')
      .style('font-family', 'Lato, sans-serif');
    g.append('text')
      .attr('x', x(11.35)).attr('y', 1780)
      .attr('text-anchor', 'middle')
      .style('font-size', '57px')
      .text('Log(Google frequency)');
  }

  // points
  p.pts.forEach(function (pts, k) {
    g.append('g').selectAll('path').data(pts).enter().append('path')
      .attr('d', d3.symbol().type(symbolTypes[k]).size(symbolSizes[k]))
      .attr('transform', function (d) { return 'translate(' + x(d[0]) + ',' + y(d[1]) + ')'; })
      .style('fill', groupColors[k])
      .style('fill-opacity', 0.4);
  });

  // confidence bands
  p.fits.forEach(function (fit, k) {
    var area = d3.area().curve(d3.curveMonotoneX)
      .x(function (d) { return x(d[0]); })
      .y0(function (d) { return y(d[1] - d[2]); })
      .y1(function (d) { return y(d[1] + d[2]); });
    g.append('path').attr('d', area(fit))
      .style('fill', groupColors[k]).style('fill-opacity', bandOpacity[k]);
  });

  // smooth lines
  p.fits.forEach(function (fit, k) {
    var line = d3.line().curve(d3.curveMonotoneX)
      .x(function (d) { return x(d[0]); })
      .y(function (d) { return y(d[1]); });
    g.append('path').attr('d', line(fit))
      .style('fill', 'none')
      .style('stroke', groupColors[k])
      .style('stroke-width', 6.5)
      .style('stroke-linecap', 'round');
  });

  // contrasts
  p.contrasts.forEach(function (c) {
    var by = lay.barY[c[4]];
    g.append('line')
      .attr('x1', x(c[1])).attr('x2', x(c[3]))
      .attr('y1', by).attr('y2', by)
      .attr('stroke', '#000').attr('stroke-width', 5)
      .attr('stroke-linecap', 'round');
    g.append('circle')
      .attr('cx', x(c[2])).attr('cy', by).attr('r', 4.5)
      .attr('fill', '#000');
    g.append('text')
      .attr('x', x(c[3]) + 10).attr('y', by + 13)
      .style('font-size', '37px')
      .style('letter-spacing', '1.5px')
      .text(c[0]);
  });
});

// legend
var legendX = [676, 1262, 1848];
var legendTextX = [736, 1319, 1904];
var legendSizes = [729, 573, 600];
groups.forEach(function (name, k) {
  svg.append('path')
    .attr('d', d3.symbol().type(symbolTypes[k]).size(legendSizes[k]))
    .attr('transform', 'translate(' + legendX[k] + ',1911)')
    .style('fill', groupColors[k]);
  svg.append('text')
    .attr('x', legendTextX[k]).attr('y', 1932)
    .style('font-size', '56px')
    .text(name);
});
</script>
</body>
</html>
